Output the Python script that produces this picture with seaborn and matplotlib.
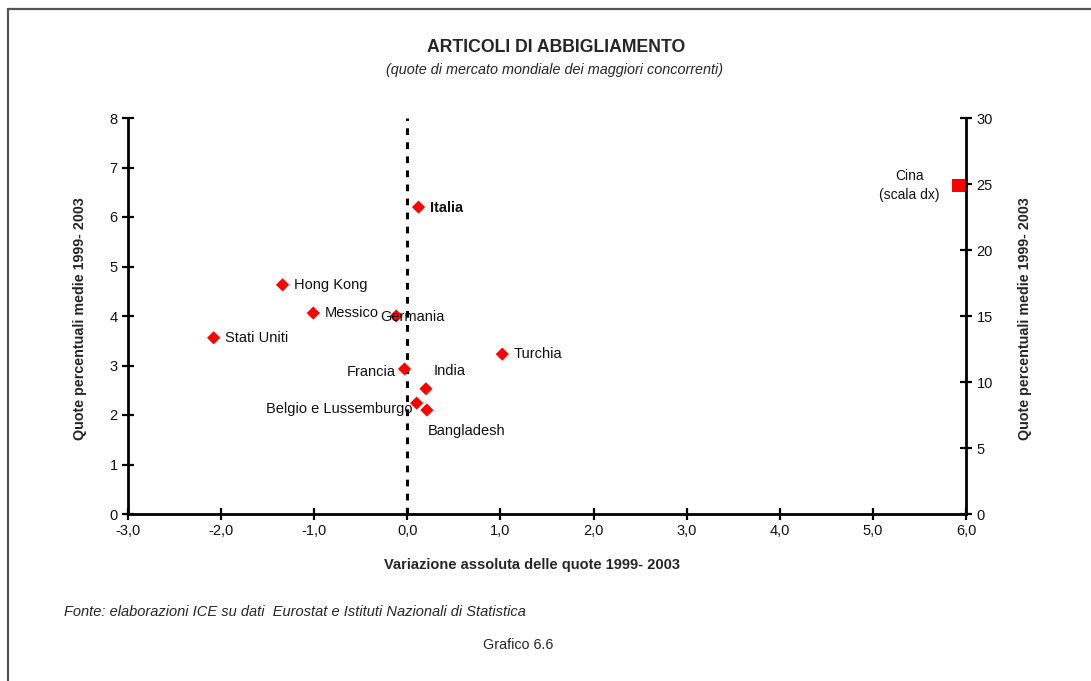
import pandas as pd
import matplotlib.pyplot as plt
import seaborn as sns
from matplotlib.lines import Line2D

# Stile
sns.set_theme(style="white")
plt.rcParams['font.family'] = ['Liberation Sans', 'DejaVu Sans']

# Dati
paesi = ["Stati Uniti", "Hong Kong", "Messico", "Germania", "Italia",
         "Francia", "Turchia", "India", "Belgio e Lussemburgo", "Bangladesh"]
variazione = [-2.08, -1.34, -1.01, -0.12, 0.12, -0.03, 1.02, 0.20, 0.10, 0.21]
quota = [3.56, 4.63, 4.06, 4.00, 6.20, 2.93, 3.23, 2.53, 2.24, 2.10]

cina_var = [5.92]
cina_quota = [24.9]

x_ticks = [-3, -2, -1, 0, 1, 2, 3, 4, 5, 6]
x_labels = ["-3,0", "-2,0", "-1,0", "0,0", "1,0", "2,0", "3,0", "4,0", "5,0", "6,0"]
y_ticks = [0, 1, 2, 3, 4, 5, 6, 7, 8]
y2_ticks = [0, 5, 10, 15, 20, 25, 30]

df = pd.DataFrame({"paese": paesi, "variazione": variazione, "quota": quota})
df_cina = pd.DataFrame({"variazione": cina_var, "quota": cina_quota})

# offset etichette (pixel) e allineamento
offsets = {
    "Stati Uniti": (11, 0, "left"),
    "Hong Kong": (11, 0, "left"),
    "Messico": (11, 0, "left"),
    "Germania": (-16, -1, "left"),
    "Italia": (11, -1, "left"),
    "Francia": (-9, -3, "right"),
    "Turchia": (11, 0, "left"),
    "India": (8, 18, "left"),
    "Belgio e Lussemburgo": (-4, -6, "right"),
    "Bangladesh": (1, -21, "left"),
}

fig = plt.figure(figsize=(10.91, 6.81), dpi=100)
ax = fig.add_axes([128 / 1091, 1 - 514 / 681, 838 / 1091, 396 / 681])
ax2 = ax.twinx()

# linea verticale tratteggiata sullo zero
ax.plot([0, 0], [0, 8], color="black", lw=2.2, dashes=(2.2, 2.4), zorder=1)

sns.scatterplot(data=df, x="variazione", y="quota", marker="D", s=45,
                color="#ff0000", edgecolor="none", ax=ax, zorder=3)
sns.scatterplot(data=df_cina, x="variazione", y="quota", marker="s", s=80,
                color="#ff0000", edgecolor="none", ax=ax2, zorder=3)

for _, r in df.iterrows():
    dx, dy, ha = offsets[r["paese"]]
    ax.annotate(r["paese"], (r["variazione"], r["quota"]), xytext=(dx, dy),
                textcoords="offset pixels", ha=ha, va="center", fontsize=10.5,
                fontweight="bold" if r["paese"] == "Italia" else "normal",
                color="#111111")

ax2.annotate("Cina\n(scala dx)", (cina_var[0], cina_quota[0]), xytext=(-49, 0),
             textcoords="offset pixels", ha="center", va="center", fontsize=10,
             color="#111111", linespacing=1.5)

ax.set_xlim(-3, 6)
ax.set_ylim(0, 8)
ax2.set_ylim(0, 30)
ax.set_xticks(x_ticks)
ax.set_xticklabels(x_labels)
ax.set_yticks(y_ticks)
ax2.set_yticks(y2_ticks)

for a in (ax, ax2):
    for s in a.spines.values():
        s.set_visible(False)
    a.tick_params(direction="inout", length=9, width=1.6, color="black",
                  labelsize=10.5, labelcolor="#111111", pad=3)
    a.set_facecolor("none")
ax.spines["left"].set_visible(True)
ax.spines["bottom"].set_visible(True)
ax2.spines["right"].set_visible(True)
for s in (ax.spines["left"], ax.spines["bottom"], ax2.spines["right"]):
    s.set_linewidth(2)
    s.set_color("black")
ax.tick_params(axis="x", bottom=True)
ax.tick_params(axis="y", left=True)
ax2.tick_params(axis="y", right=True)

ax.set_xlabel("Variazione assoluta delle quote 1999- 2003", fontsize=10.5,
              fontweight="bold", labelpad=14)
ax.xaxis.set_label_coords((532 - 128) / 838, -0.11)
ax.set_ylabel("Quote percentuali medie 1999- 2003", fontsize=10.3,
              fontweight="bold")
ax.yaxis.set_label_coords((87 - 128) / 838, (514 - 319) / 396)
ax2.set_ylabel("Quote percentuali medie 1999- 2003", fontsize=10.3,
               fontweight="bold")
ax2.yaxis.set_label_coords((1018 - 128) / 838, (514 - 319) / 396)

fig.text(556 / 1091, 1 - 48 / 681, "ARTICOLI DI ABBIGLIAMENTO", ha="center",
         va="center", fontsize=12.7, fontweight="bold")
fig.text(555 / 1091, 1 - 70 / 681,
         "(quote di mercato mondiale dei maggiori concorrenti)", ha="center",
         va="center", fontsize=10.4, style="italic")
fig.text(64 / 1091, 1 - 612 / 681,
         "Fonte: elaborazioni ICE su dati  Eurostat e Istituti Nazionali di Statistica",
         ha="left", va="center", fontsize=10.5, style="italic")
fig.text(518 / 1091, 1 - 645 / 681, "Grafico 6.6", ha="center", va="center",
         fontsize=10.3)

# cornice
fig.add_artist(Line2D([8 / 1091, 1], [1 - 9 / 681, 1 - 9 / 681],
                      transform=fig.transFigure, color="#555555", lw=1.6))
fig.add_artist(Line2D([8 / 1091, 8 / 1091], [0, 1 - 9 / 681],
                      transform=fig.transFigure, color="#555555", lw=1.6))

fig.savefig("out.png", dpi=100)
